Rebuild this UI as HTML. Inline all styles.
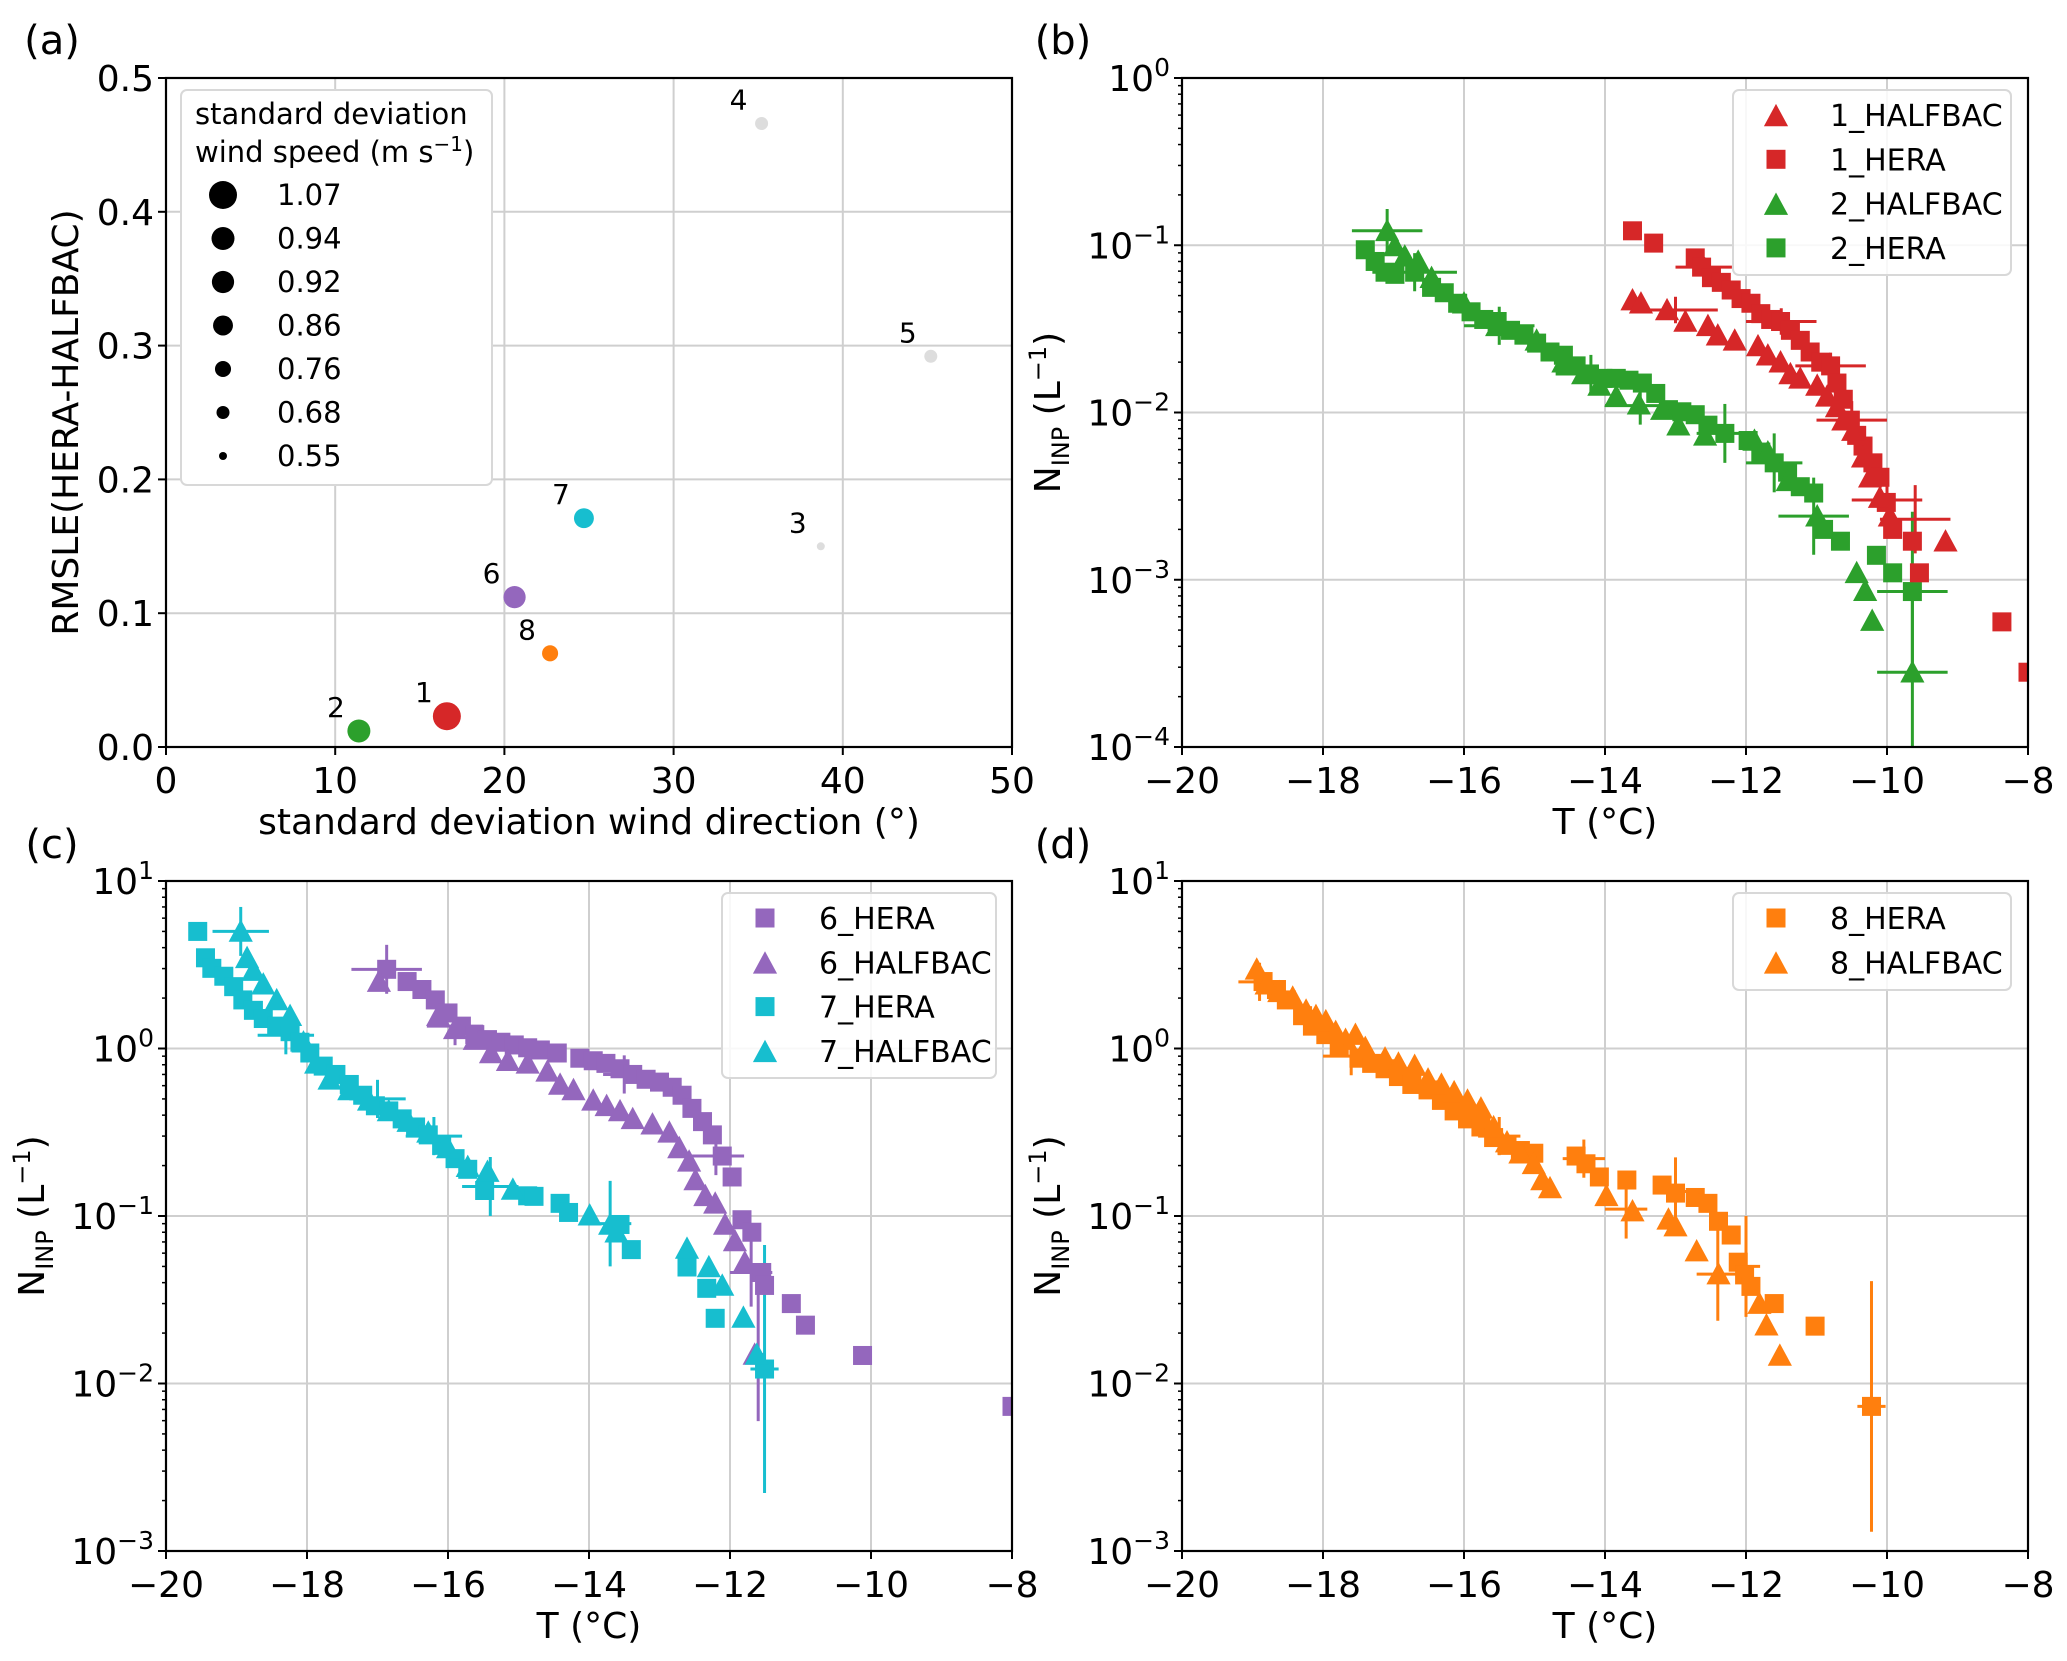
<!DOCTYPE html>
<html><head><meta charset="utf-8">
<style>
html,body{margin:0;padding:0;background:#fff;}
svg{display:block;font-family:"DejaVu Sans","Liberation Sans",sans-serif;}
</style></head>
<body>
<svg id="fig" width="2067" height="1661" viewBox="0 0 2067 1661" xmlns="http://www.w3.org/2000/svg"></svg>
<script>
// ---------- Panel (a) data ----------
const aIds = ["1","2","3","4","5","6","7","8"];
const aDir = [16.6, 11.4, 38.7, 35.2, 45.2, 20.6, 24.7, 22.7];
const aRmsle = [0.023, 0.012, 0.150, 0.466, 0.292, 0.112, 0.171, 0.070];
const aSpeed = [1.07, 0.94, 0.55, 0.68, 0.68, 0.92, 0.86, 0.76];
const aColors = ["#d62728","#2ca02c","#dddddd","#dddddd","#dddddd","#9467bd","#17becf","#ff7f0e"];
const aLegendVals = ["1.07","0.94","0.92","0.86","0.76","0.68","0.55"];
const aXTicks = [0,10,20,30,40,50];
const aYTicks = ["0.0","0.1","0.2","0.3","0.4","0.5"];

// ---------- Panel (b) data ----------
const b1HeraT = [-13.61,-13.31,-12.72,-12.63,-12.49,-12.35,-12.21,-12.07,-11.93,-11.79,-11.65,-11.51,-11.37,-11.23,-11.09,-10.94,-10.80,-10.71,-10.62,-10.52,-10.43,-10.34,-10.20,-10.10,-10.01,-9.92,-9.64,-9.54,-8.37,-8.0];
const b1HeraN = [0.122,0.103,0.084,0.074,0.064,0.060,0.054,0.048,0.045,0.039,0.036,0.035,0.031,0.027,0.023,0.020,0.019,0.015,0.012,0.0090,0.0073,0.0063,0.0050,0.0041,0.0029,0.0020,0.0017,0.0011,0.00056,0.00028];
const b1HalfT = [-13.61,-13.49,-13.12,-12.86,-12.54,-12.40,-12.16,-11.83,-11.69,-11.51,-11.37,-11.23,-10.99,-10.85,-10.71,-10.62,-10.48,-10.34,-10.24,-10.10,-9.96,-9.17];
const b1HalfN = [0.047,0.045,0.041,0.035,0.033,0.029,0.027,0.025,0.022,0.020,0.017,0.016,0.0145,0.0125,0.0108,0.0090,0.0078,0.0054,0.0041,0.0031,0.0024,0.0017];
const b2HeraT = [-17.40,-17.26,-17.12,-16.98,-16.70,-16.46,-16.28,-16.09,-15.90,-15.72,-15.53,-15.34,-15.15,-14.97,-14.78,-14.59,-14.41,-14.22,-14.03,-13.84,-13.66,-13.47,-13.28,-13.10,-12.91,-12.72,-12.54,-12.30,-11.97,-11.79,-11.60,-11.41,-11.23,-11.04,-10.90,-10.66,-10.15,-9.92,-9.64];
const b2HeraN = [0.094,0.080,0.069,0.067,0.069,0.056,0.052,0.045,0.040,0.036,0.035,0.031,0.029,0.026,0.023,0.022,0.019,0.017,0.016,0.016,0.0156,0.015,0.013,0.0104,0.0101,0.0097,0.0084,0.0075,0.0068,0.0058,0.0050,0.0044,0.0036,0.0033,0.0020,0.0017,0.0014,0.0011,0.00085];
const b2HalfT = [-17.09,-16.98,-16.84,-16.65,-16.46,-16.00,-15.53,-14.97,-14.59,-14.31,-14.08,-13.84,-13.52,-13.19,-12.96,-12.58,-11.88,-11.69,-11.41,-10.99,-10.43,-10.31,-10.21,-9.64];
const b2HalfN = [0.122,0.099,0.086,0.080,0.064,0.045,0.033,0.027,0.020,0.017,0.0145,0.0125,0.0112,0.0104,0.0084,0.0073,0.0068,0.0058,0.0039,0.0024,0.0011,0.00086,0.00057,0.00028];
const bErrGreen = [[-17.09,0.122,0.5,1.35],[-16.7,0.069,0.6,1.3],[-15.5,0.033,0.5,1.3],[-14.2,0.017,0.5,1.3],[-13.5,0.011,0.5,1.3],[-12.3,0.0075,0.4,1.5],[-11.6,0.005,0.4,1.5],[-11.04,0.0024,0.5,1.7],[-9.64,0.00085,0.5,3],[-9.64,0.00028,0.5,3]];
const bErrRed = [[-12.6,0.074,0.4,1.15],[-13.0,0.041,0.6,1.2],[-11.5,0.035,0.5,1.2],[-10.8,0.019,0.5,1.2],[-10.5,0.009,0.5,1.3],[-10.0,0.003,0.5,1.5],[-9.6,0.0023,0.5,1.6],[-8.0,0.00028,0.1,1.0]];

// ---------- Panel (c) data ----------
const c6HeraT = [-16.87,-16.58,-16.37,-16.18,-16.00,-15.81,-15.62,-15.44,-15.25,-15.06,-14.87,-14.69,-14.45,-14.13,-13.94,-13.76,-13.56,-13.38,-13.19,-13.00,-12.82,-12.68,-12.54,-12.39,-12.25,-12.11,-11.97,-11.83,-11.69,-11.55,-11.51,-11.13,-10.93,-10.12,-8.0];
const c6HeraN = [2.97,2.51,2.25,1.95,1.63,1.36,1.21,1.13,1.09,1.05,1.01,0.98,0.94,0.875,0.845,0.815,0.757,0.70,0.655,0.63,0.587,0.526,0.439,0.366,0.305,0.228,0.171,0.095,0.080,0.046,0.0385,0.030,0.0223,0.0147,0.0073];
const c6HalfT = [-16.98,-16.14,-15.90,-15.62,-15.39,-15.15,-14.87,-14.59,-14.41,-14.22,-13.94,-13.75,-13.56,-13.38,-13.10,-12.86,-12.72,-12.58,-12.49,-12.35,-12.21,-12.07,-11.93,-11.79,-11.65];
const c6HalfN = [2.51,1.57,1.31,1.13,0.94,0.845,0.815,0.73,0.61,0.566,0.49,0.455,0.424,0.38,0.353,0.316,0.255,0.212,0.164,0.132,0.119,0.089,0.071,0.053,0.0149];
const c7HeraT = [-19.55,-19.44,-19.35,-19.18,-19.04,-18.91,-18.76,-18.62,-18.43,-18.24,-18.10,-17.96,-17.77,-17.59,-17.40,-17.21,-17.03,-16.84,-16.65,-16.46,-16.28,-16.09,-15.90,-15.72,-15.48,-14.87,-14.78,-14.41,-14.29,-13.56,-13.40,-12.61,-12.33,-12.21,-11.51];
const c7HeraN = [5.0,3.48,3.01,2.70,2.34,1.95,1.69,1.51,1.36,1.26,1.09,0.94,0.785,0.70,0.61,0.526,0.455,0.424,0.38,0.34,0.305,0.264,0.22,0.19,0.142,0.132,0.131,0.119,0.105,0.089,0.063,0.0496,0.037,0.0245,0.0122];
const c7HalfT = [-18.94,-18.85,-18.76,-18.62,-18.43,-18.24,-18.05,-17.87,-17.68,-17.40,-17.12,-16.84,-16.56,-16.28,-16.00,-15.72,-15.44,-15.08,-13.99,-13.70,-13.61,-12.61,-12.30,-12.11,-11.81,-11.62];
const c7HalfN = [5.0,3.48,2.92,2.42,1.95,1.57,1.09,0.815,0.655,0.566,0.49,0.424,0.366,0.316,0.255,0.197,0.184,0.144,0.101,0.089,0.080,0.064,0.0496,0.0385,0.0248,0.0149];
const cErrPurple = [[-16.87,2.97,0.5,1.4],[-15.9,1.36,0.4,1.3],[-13.5,0.7,0.3,1.3],[-12.2,0.228,0.4,1.3],[-11.7,0.046,0.3,1.6],[-11.6,0.0149,0.1,2.5],[-8.0,0.0073,0.1,1.0]];
const cErrCyan = [[-18.94,5.0,0.4,1.4],[-18.3,1.2,0.4,1.3],[-17.0,0.5,0.4,1.3],[-16.2,0.3,0.4,1.3],[-15.4,0.15,0.4,1.5],[-13.7,0.09,0.3,1.8],[-11.51,0.0122,0.2,5.5]];

// ---------- Panel (d) data ----------
const d8HeraT = [-18.85,-18.66,-18.52,-18.29,-18.15,-17.96,-17.77,-17.49,-17.31,-17.12,-16.93,-16.74,-16.51,-16.32,-16.14,-15.95,-15.76,-15.58,-15.39,-15.20,-15.01,-14.41,-14.27,-14.08,-13.69,-13.19,-13.00,-12.72,-12.54,-12.39,-12.21,-12.11,-12.02,-11.93,-11.60,-11.02,-10.22];
const d8HeraN = [2.51,2.25,1.95,1.57,1.36,1.21,1.01,0.875,0.815,0.757,0.68,0.61,0.566,0.49,0.424,0.38,0.34,0.294,0.264,0.246,0.237,0.228,0.205,0.171,0.164,0.153,0.137,0.129,0.119,0.093,0.077,0.053,0.0445,0.038,0.030,0.022,0.0073];
const d8HalfT = [-18.94,-18.80,-18.62,-18.43,-18.24,-18.10,-17.96,-17.82,-17.68,-17.54,-17.40,-17.12,-16.93,-16.70,-16.51,-16.32,-16.14,-15.95,-15.76,-15.58,-15.39,-15.20,-15.01,-14.89,-14.78,-13.98,-13.61,-13.10,-13.00,-12.70,-12.39,-11.81,-11.71,-11.52];
const d8HalfN = [2.97,2.42,2.18,2.02,1.69,1.57,1.46,1.26,1.13,1.21,1.01,0.875,0.815,0.79,0.655,0.61,0.55,0.49,0.44,0.34,0.276,0.237,0.205,0.164,0.147,0.132,0.107,0.0955,0.087,0.0617,0.045,0.030,0.0223,0.0147];
const dErrOrange = [[-18.9,2.5,0.3,1.3],[-17.6,0.9,0.4,1.3],[-15.5,0.3,0.3,1.3],[-14.3,0.22,0.3,1.3],[-13.7,0.11,0.3,1.5],[-13.0,0.14,0.2,1.6],[-12.4,0.045,0.3,1.9],[-12.0,0.05,0.2,2],[-10.22,0.0073,0.2,5.6]];
const tTicks = [-20,-18,-16,-14,-12,-10,-8];

const NS = "http://www.w3.org/2000/svg";
const svg = document.getElementById("fig");
function el(tag, attrs, parent){ const e=document.createElementNS(NS,tag); for(const k in attrs) e.setAttribute(k,attrs[k]); (parent||svg).appendChild(e); return e; }
const FS = 36;

function makeAxes(P){
  const g = el("g",{});
  
  
  const cp = el("clipPath",{id:P.name+"-clip"},g);
  el("rect",{x:P.l,y:P.t,width:P.r-P.l,height:P.b-P.t},cp);
  return g;
}

function linX(P,v){ return P.l+(v-P.x0)/(P.x1-P.x0)*(P.r-P.l); }
function linY(P,v){ return P.b-(v-P.y0)/(P.y1-P.y0)*(P.b-P.t); }
function logY(P,v){ return P.b-(Math.log10(v)-P.y0)/(P.y1-P.y0)*(P.b-P.t); }

function grid(P,g,xs,ys){
  xs.forEach(x=>{ const l=el("line",{x1:x,x2:x,y1:P.t,y2:P.b,stroke:"#cfcfcf","stroke-width":2},g);  });
  ys.forEach(y=>{ const l=el("line",{x1:P.l,x2:P.r,y1:y,y2:y,stroke:"#cfcfcf","stroke-width":2},g);  });
}
function frame(P,g){
  const r=el("rect",{x:P.l,y:P.t,width:P.r-P.l,height:P.b-P.t,fill:"none",stroke:"#000","stroke-width":2.2},g);
   
}
function xTicks(P,g,vals,labels,name){
  vals.forEach((v,i)=>{
    const x=linX(P,v);
    el("line",{x1:x,x2:x,y1:P.b,y2:P.b+8,stroke:"#000","stroke-width":2},g);
    const t=el("text",{x:x,y:P.b+46,"text-anchor":"middle","font-size":FS},g);
    t.textContent=labels[i];
    
    
  });
}
function logYTicks(P,g,name){
  for(let d=P.y0; d<=P.y1; d++){
    const y=P.b-(d-P.y0)/(P.y1-P.y0)*(P.b-P.t);
    el("line",{x1:P.l-8,x2:P.l,y1:y,y2:y,stroke:"#000","stroke-width":2},g);
    const t=el("text",{x:P.l-12,y:y+13,"text-anchor":"end","font-size":FS},g);
    const s1=el("tspan",{},t); s1.textContent="10";
    const s2=el("tspan",{dy:-15,"font-size":25},t); s2.textContent=(d<0?"\u2212"+(-d):String(d));
    
    
    if(d<P.y1){ for(let m=2;m<=9;m++){ const ym=logY(P,m*Math.pow(10,d)); el("line",{x1:P.l-4,x2:P.l,y1:ym,y2:ym,stroke:"#000","stroke-width":1.5},g);} }
  }
}
function label(g,x,y,txt,name,rot,size){
  const t=el("text",{x:x,y:y,"text-anchor":"middle","font-size":size||FS},g);
  if(rot) t.setAttribute("transform",`rotate(-90 ${x} ${y})`);
  t.textContent=txt;
  
  
  return t;
}
function ninpLabel(g,x,y,name){
  const t=el("text",{x:x,y:y,"text-anchor":"middle","font-size":FS,transform:`rotate(-90 ${x} ${y})`},g);
  const a=el("tspan",{},t); a.textContent="N";
  const b=el("tspan",{dy:9,"font-size":24},t); b.textContent="INP";
  const c=el("tspan",{dy:-9},t); c.textContent=" (L";
  const d=el("tspan",{dy:-14,"font-size":24},t); d.textContent="\u22121";
  const e=el("tspan",{dy:14},t); e.textContent=")";
  
  
}
function square(g,x,y,c,s){ return el("rect",{x:x-s/2,y:y-s/2,width:s,height:s,fill:c},g); }
function tri(g,x,y,c,s){ const h=s*0.55; return el("polygon",{points:`${x},${y-h} ${x-h},${y+h*0.85} ${x+h},${y+h*0.85}`,fill:c},g); }

function drawSeries(P,g,Ts,Ns,color,shape,name){
  const sg=el("g",{"clip-path":`url(#${P.name}-clip)`},g);
  
  
  Ts.forEach((T,i)=>{
    const x=linX(P,T), y=logY(P,Ns[i]);
    const m = shape==="s" ? square(sg,x,y,color,19) : tri(sg,x,y,color,22);
    
    
  });
}
function drawErr(P,g,errs,color,name){
  const sg=el("g",{"clip-path":`url(#${P.name}-clip)`},g);
  
  
  errs.forEach(e=>{
    const x=linX(P,e[0]), y=logY(P,e[1]);
    el("line",{x1:linX(P,e[0]-e[2]),x2:linX(P,e[0]+e[2]),y1:y,y2:y,stroke:color,"stroke-width":3},sg);
    el("line",{x1:x,x2:x,y1:logY(P,e[1]*e[3]),y2:logY(P,e[1]/e[3]),stroke:color,"stroke-width":3},sg);
  });
}
function legend(g,x,y,w,h,entries,name){
  const lg=el("g",{},g);
  
  
  el("rect",{x:x,y:y,width:w,height:h,rx:6,fill:"#fff","fill-opacity":0.85,stroke:"#d8d8d8","stroke-width":2},lg);
  entries.forEach((e,i)=>{
    const cy=y+25+i*44.3;
    const eg=el("g",{},lg);
    
    
    if(e[2]==="s") square(eg,x+43,cy,e[1],19); else tri(eg,x+43,cy+1,e[1],22);
    const t=el("text",{x:x+97,y:cy+11,"font-size":30},eg); t.textContent=e[0];
  });
}

// ===== Panel (a) =====
(function(){
  const P={name:"panel-a",l:166,r:1012,t:78,b:747,x0:0,x1:50,y0:0,y1:0.5};
  const g=makeAxes(P);
  grid(P,g,aXTicks.map(v=>linX(P,v)),aYTicks.map(v=>linY(P,+v)));
  xTicks(P,g,aXTicks,aXTicks.map(String),"a-x");
  aYTicks.forEach(v=>{ const y=linY(P,+v); el("line",{x1:P.l-8,x2:P.l,y1:y,y2:y,stroke:"#000","stroke-width":2},g);
    const t=el("text",{x:P.l-12,y:y+13,"text-anchor":"end","font-size":FS},g); t.textContent=v;  });
  const rad = s => 4 + (s-0.55)/(1.07-0.55)*10;
  aIds.forEach((id,i)=>{
    const x=linX(P,aDir[i]), y=linY(P,aRmsle[i]);
    const c=el("circle",{cx:x,cy:y,r:rad(aSpeed[i]),fill:aColors[i]},g);
    
    
    const t=el("text",{x:x-23,y:y-14,"text-anchor":"middle","font-size":28},g);
    t.textContent=id;
    
    
  });
  frame(P,g);
  const lg=el("g",{},g);
  
  
  el("rect",{x:181,y:90,width:311,height:395,rx:6,fill:"#fff",stroke:"#d8d8d8","stroke-width":2},lg);
  const t1=el("text",{x:195,y:124,"font-size":29},lg); t1.textContent="standard deviation";
  const t2=el("text",{x:195,y:162,"font-size":29},lg);
  const s1=el("tspan",{},t2); s1.textContent="wind speed (m s";
  const s2=el("tspan",{dy:-11,"font-size":20},t2); s2.textContent="\u22121";
  const s3=el("tspan",{dy:11},t2); s3.textContent=")";
  aLegendVals.forEach((v,i)=>{
    const cy=195+i*43.5;
    const eg=el("g",{},lg);
    
    
    el("circle",{cx:223,cy:cy,r:rad(+v),fill:"#000"},eg);
    const t=el("text",{x:277,y:cy+10,"font-size":29},eg); t.textContent=v;
  });
  label(g,(P.l+P.r)/2,834,"standard deviation wind direction (°)","a-x-axis-title");
  label(g,78,(P.t+P.b)/2+10,"RMSLE(HERA-HALFBAC)","a-y-axis-title",true);
  label(g,52,54,"(a)","panel-a-label",false,40);
})();

// ===== Panel (b) =====
(function(){
  const P={name:"panel-b",l:1182,r:2028,t:78,b:747,x0:-20,x1:-8,y0:-4,y1:0};
  const g=makeAxes(P);
  const ys=[]; for(let d=P.y0;d<=P.y1;d++) ys.push(P.b-(d-P.y0)/(P.y1-P.y0)*(P.b-P.t));
  grid(P,g,tTicks.map(v=>linX(P,v)),ys);
  drawErr(P,g,bErrGreen,"#2ca02c","b-green-errorbars");
  drawErr(P,g,bErrRed,"#d62728","b-red-errorbars");
  drawSeries(P,g,b2HeraT,b2HeraN,"#2ca02c","s","series-2-hera");
  drawSeries(P,g,b2HalfT,b2HalfN,"#2ca02c","t","series-2-halfbac");
  drawSeries(P,g,b1HeraT,b1HeraN,"#d62728","s","series-1-hera");
  drawSeries(P,g,b1HalfT,b1HalfN,"#d62728","t","series-1-halfbac");
  xTicks(P,g,tTicks,tTicks.map(v=>v<0?"\u2212"+(-v):String(v)),"b-x");
  logYTicks(P,g,"b");
  frame(P,g);
  legend(g,1733,90,278,185,[["1_HALFBAC","#d62728","t"],["1_HERA","#d62728","s"],["2_HALFBAC","#2ca02c","t"],["2_HERA","#2ca02c","s"]],"b-legend");
  label(g,(P.l+P.r)/2,834,"T (°C)","b-x-axis-title");
  ninpLabel(g,1060,(P.t+P.b)/2,"b-y-axis-title");
  label(g,1063,54,"(b)","panel-b-label",false,40);
})();

// ===== Panel (c) =====
(function(){
  const P={name:"panel-c",l:166,r:1012,t:881,b:1551,x0:-20,x1:-8,y0:-3,y1:1};
  const g=makeAxes(P);
  const ys=[]; for(let d=P.y0;d<=P.y1;d++) ys.push(P.b-(d-P.y0)/(P.y1-P.y0)*(P.b-P.t));
  grid(P,g,tTicks.map(v=>linX(P,v)),ys);
  drawErr(P,g,cErrPurple,"#9467bd","c-purple-errorbars");
  drawErr(P,g,cErrCyan,"#17becf","c-cyan-errorbars");
  drawSeries(P,g,c6HeraT,c6HeraN,"#9467bd","s","series-6-hera");
  drawSeries(P,g,c6HalfT,c6HalfN,"#9467bd","t","series-6-halfbac");
  drawSeries(P,g,c7HeraT,c7HeraN,"#17becf","s","series-7-hera");
  drawSeries(P,g,c7HalfT,c7HalfN,"#17becf","t","series-7-halfbac");
  xTicks(P,g,tTicks,tTicks.map(v=>v<0?"\u2212"+(-v):String(v)),"c-x");
  logYTicks(P,g,"c");
  frame(P,g);
  legend(g,722,893,274,185,[["6_HERA","#9467bd","s"],["6_HALFBAC","#9467bd","t"],["7_HERA","#17becf","s"],["7_HALFBAC","#17becf","t"]],"c-legend");
  label(g,(P.l+P.r)/2,1638,"T (°C)","c-x-axis-title");
  ninpLabel(g,44,(P.t+P.b)/2,"c-y-axis-title");
  label(g,52,858,"(c)","panel-c-label",false,40);
})();

// ===== Panel (d) =====
(function(){
  const P={name:"panel-d",l:1182,r:2028,t:881,b:1551,x0:-20,x1:-8,y0:-3,y1:1};
  const g=makeAxes(P);
  const ys=[]; for(let d=P.y0;d<=P.y1;d++) ys.push(P.b-(d-P.y0)/(P.y1-P.y0)*(P.b-P.t));
  grid(P,g,tTicks.map(v=>linX(P,v)),ys);
  drawErr(P,g,dErrOrange,"#ff7f0e","d-orange-errorbars");
  drawSeries(P,g,d8HeraT,d8HeraN,"#ff7f0e","s","series-8-hera");
  drawSeries(P,g,d8HalfT,d8HalfN,"#ff7f0e","t","series-8-halfbac");
  xTicks(P,g,tTicks,tTicks.map(v=>v<0?"\u2212"+(-v):String(v)),"d-x");
  logYTicks(P,g,"d");
  frame(P,g);
  legend(g,1733,893,278,97,[["8_HERA","#ff7f0e","s"],["8_HALFBAC","#ff7f0e","t"]],"d-legend");
  label(g,(P.l+P.r)/2,1638,"T (°C)","d-x-axis-title");
  ninpLabel(g,1060,(P.t+P.b)/2,"d-y-axis-title");
  label(g,1063,858,"(d)","panel-d-label",false,40);
})();
</script>
</body></html>
